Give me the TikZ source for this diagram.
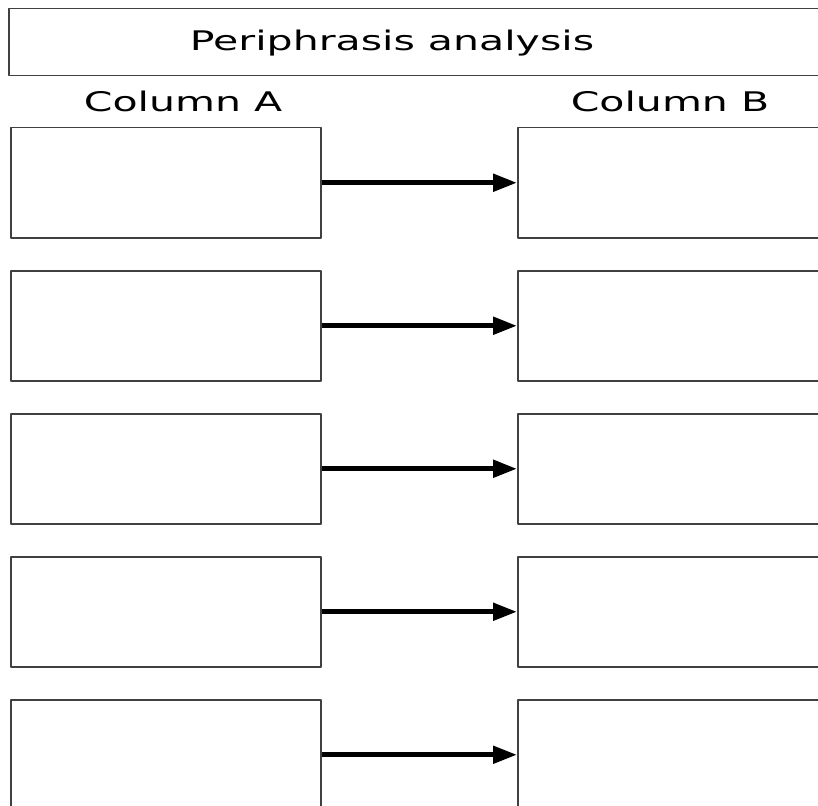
\documentclass[tikz,border=0pt]{standalone}
\usepackage{fontspec}
\setmainfont{DejaVu Sans}
\usetikzlibrary{arrows.meta}
\tikzset{
	cell/.style={draw=black!75, line width=1.5pt, minimum width=310pt, minimum height=110pt, inner sep=0pt, anchor=north west},
	link/.style={line width=5pt, -{Triangle[length=24pt,width=17pt]}},
	head/.style={font=\fontsize{27}{30}\selectfont, inner sep=0pt, xscale=1.52, transform shape}
}
\begin{document}
\begin{tikzpicture}[x=1pt,y=-1pt, line join=round]
		\def\xa{10} \def\xb{517} % left edges of the columns
		\def\ytop{127} \def\dy{143}
		\clip (0,0) rectangle (818,805);
		\node[cell, minimum width=830pt, minimum height=67pt] (frame) at (8,8) {};
		\node[head] (title) at (392,43) {Periphrasis analysis};
		\node[head] (colA) at (183,101) {Column A};
		\node[head] (colB) at (670,101) {Column B};
		\foreach \i in {0,...,4}{
			\node[cell] (a\i) at (\xa,\ytop+\dy*\i) {};
			\node[cell] (b\i) at (\xb,\ytop+\dy*\i) {};
			\draw[link] (a\i) -- (b\i);
		}
\end{tikzpicture}
\end{document}
